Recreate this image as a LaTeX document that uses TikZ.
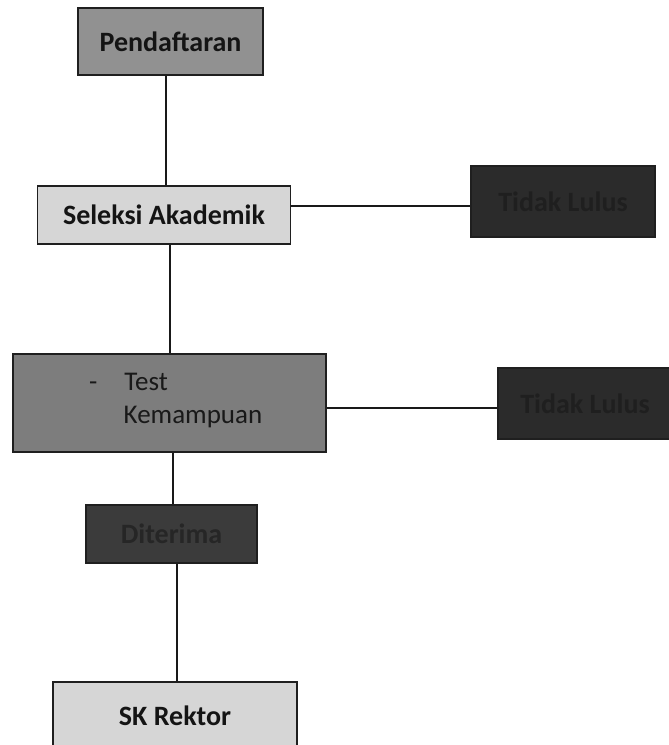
\documentclass[tikz,border=0pt]{standalone}
\usepackage{fontspec}
\setmainfont{Carlito}
\begin{document}
\begin{tikzpicture}[x=1pt,y=1pt,
  box/.style={draw=black!88, line width=1.8pt, rectangle, inner sep=0pt, font=\fontsize{28}{33}\selectfont\bfseries, text=black!92},
  conn/.style={draw=black!90, line width=1.6pt}]
\useasboundingbox (0,0) rectangle (669,-745);
\fill[white] (0,0) rectangle (669,-745);
\node[box, fill=black!43, minimum width=185, minimum height=67] (pend) at (170.5,-41.5) {Pendaftaran};
\node[box, fill=black!16, minimum width=253, minimum height=58] (sel) at (164,-215) {Seleksi Akademik};
\node[box, fill=black!83, minimum width=184, minimum height=71, text=black!88] (tl1) at (563,-201.5) {Tidak Lulus};
\node[box, fill=black!51, minimum width=313, minimum height=98] (test) at (169.5,-403) {};
\node[font=\fontsize{27}{33}\selectfont, text=black!90, anchor=west, inner sep=0pt, align=left] (testtxt) at (89,-401) {-\hspace{27pt}Test\\\hspace{34.5pt}Kemampuan};
\node[box, fill=black!83, minimum width=174, minimum height=71, text=black!88] (tl2) at (585,-403.5) {Tidak Lulus};
\node[box, fill=black!77, minimum width=171, minimum height=58, text=black!85] (dit) at (171.5,-534) {Diterima};
\node[box, fill=black!16, minimum width=244, minimum height=68] (sk) at (175,-716) {SK Rektor};
\draw[conn] (pend.south -| 166,0) -- (sel.north -| 166,0);
\draw[conn] (sel.east |- 0,-206) -- (tl1.west |- 0,-206);
\draw[conn] (sel.south -| 170,0) -- (test.north -| 170,0);
\draw[conn] (test.east |- 0,-408) -- (tl2.west |- 0,-408);
\draw[conn] (test.south -| 173,0) -- (dit.north -| 173,0);
\draw[conn] (dit.south -| 177,0) -- (sk.north -| 177,0);
\end{tikzpicture}
\end{document}
